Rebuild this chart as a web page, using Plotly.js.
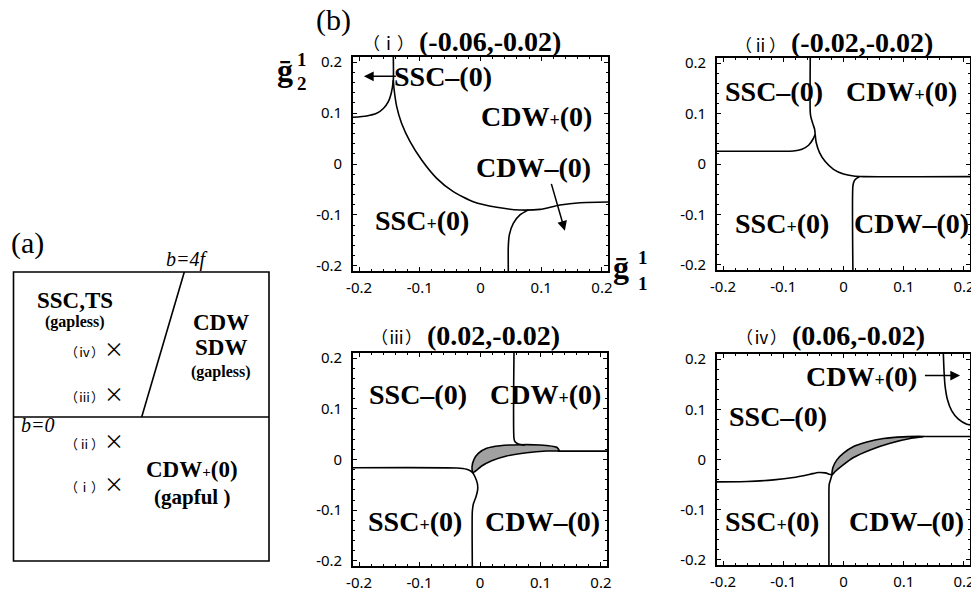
<!DOCTYPE html>
<html>
<head>
<meta charset="utf-8">
<script src="https://cdn.plot.ly/plotly-3.0.1.min.js"></script>
<style>html,body{margin:0;padding:0;background:#fff}</style>
</head>
<body>
<div id="chart" style="width:971px;height:592px"></div>
<script>
// ---------- phase boundaries in the (g1, g2) plane ----------
// (i)  (-0.06,-0.02)
const i_sscMinus_x = [-0.21, -0.1875, -0.171, -0.160, -0.152, -0.147, -0.1436, -0.1436];
const i_sscMinus_y = [0.0917, 0.0942, 0.0995, 0.109, 0.122, 0.139, 0.165, 0.21];
const i_main_x = [-0.1436, -0.1425, -0.138, -0.130, -0.116, -0.0969, -0.0721, -0.0448, -0.0119, 0.0267, 0.065, 0.098, 0.131, 0.164, 0.21];
const i_main_y = [0.165, 0.1486, 0.1125, 0.080, 0.0438, 0.0079, -0.0281, -0.0543, -0.074, -0.085, -0.0903, -0.089, -0.0805, -0.076, -0.0746];
const i_cdwMinus_x = [0.0458, 0.0458, 0.0475, 0.054, 0.065, 0.0788];
const i_cdwMinus_y = [-0.21, -0.162, -0.139, -0.1165, -0.100, -0.090];

// (ii) (-0.02,-0.02)
const ii_top_x = [-0.0552, -0.0552, -0.054, -0.0507, -0.048, -0.047];
const ii_top_y = [0.21, 0.1023, 0.0923, 0.079, 0.069, 0.059];
const ii_left_x = [-0.047, -0.0507, -0.058, -0.069, -0.083, -0.105, -0.21];
const ii_left_y = [0.059, 0.049, 0.0372, 0.0293, 0.0259, 0.0253, 0.0253];
const ii_right_x = [-0.047, -0.0453, -0.0398, -0.0303, -0.0166, 0.0, 0.0166, 0.0332, 0.21];
const ii_right_y = [0.059, 0.0426, 0.0227, 0.0048, -0.0105, -0.0199, -0.0239, -0.0251, -0.0251];
const ii_bottom_x = [0.0156, 0.0156, 0.0177, 0.0222, 0.0265];
const ii_bottom_y = [-0.21, -0.0438, -0.0338, -0.0279, -0.0251];

// (iii) (0.02,-0.02)
const iii_top_x = [0.0562, 0.0562, 0.0579, 0.0634, 0.0744];
const iii_top_y = [0.21, 0.0418, 0.0351, 0.0306, 0.028];
const iii_lens_x = [-0.012, -0.0132, -0.0099, -0.0028, 0.011, 0.033, 0.066, 0.0992, 0.1268, 0.131,
                    0.110, 0.0772, 0.0441, 0.0193, 0.0028, -0.0066, -0.012];
const iii_lens_y = [-0.026, -0.0142, 0.0004, 0.0122, 0.0221, 0.0272, 0.0292, 0.0286, 0.0241, 0.0174,
                    0.0168, 0.0134, 0.0069, -0.0024, -0.0128, -0.022, -0.026];
const iii_right_x = [0.128, 0.21];
const iii_right_y = [0.0165, 0.0165];
const iii_left_x = [-0.21, -0.0385, -0.022, -0.0154, -0.012];
const iii_left_y = [-0.0162, -0.0168, -0.0193, -0.0227, -0.026];
const iii_bottom_x = [-0.012, -0.0083, -0.0044, -0.0039, -0.0066, -0.011, -0.0127, -0.0127];
const iii_bottom_y = [-0.026, -0.034, -0.047, -0.060, -0.0734, -0.0878, -0.103, -0.21];

// (iv) (0.06,-0.02)
const iv_arc_x = [0.1658, 0.167, 0.1686, 0.1724, 0.1797, 0.1907, 0.2046, 0.21];
const iv_arc_y = [0.21, 0.1732, 0.1465, 0.120, 0.0967, 0.0802, 0.0703, 0.069];
const iv_lens_x = [-0.0192, -0.0176, -0.011, 0.0, 0.0166, 0.0388, 0.0663, 0.0995, 0.1355,
                   0.1106, 0.0774, 0.0443, 0.0166, -0.0027, -0.0138, -0.0192];
const iv_lens_y = [-0.0307, -0.0159, -0.0008, 0.0125, 0.0259, 0.035, 0.0418, 0.045, 0.0458,
                   0.0418, 0.0324, 0.0191, 0.004, -0.0127, -0.0239, -0.0307];
const iv_right_x = [0.1355, 0.21];
const iv_right_y = [0.0458, 0.0458];
const iv_left_x = [-0.21, -0.160, -0.116, -0.083, -0.0552, -0.0415, -0.0303, -0.0232, -0.0192];
const iv_left_y = [-0.0446, -0.0438, -0.0406, -0.0358, -0.0293, -0.0259, -0.0267, -0.0293, -0.0307];
const iv_bottom_x = [-0.0192, -0.0209, -0.0237, -0.0242, -0.0242];
const iv_bottom_y = [-0.0307, -0.0378, -0.0492, -0.0625, -0.21];

// axis ticks
const tickVals = [-0.2, -0.1, 0, 0.1, 0.2];
const tickText = ['-0.2', '-0.1', '0', '0.1', '0.2'];

// panel titles: numeral and (g1', g2') parameters
const panelNumerals = ['（ⅰ）', '（ⅱ）', '（ⅲ）', '（ⅳ）'];
const panelParams = ['(-0.06,-0.02)', '(-0.02,-0.02)', '(0.02,-0.02)', '(0.06,-0.02)'];

// ---------- helpers ----------
const W = 971, H = 592;
const PX = v => v / W, PY = v => 1 - v / H;
const SERIF = 'Liberation Serif, Times New Roman, serif';
const CJK = 'Noto Sans CJK JP, Noto Sans, sans-serif';

function line(x, y, n) {
  const s = n === 1 ? '' : String(n);
  return {x, y, xaxis: 'x' + s, yaxis: 'y' + s,
          mode: 'lines', line: {color: '#000', width: 1.6, shape: 'spline', smoothing: 0.6},
          hoverinfo: 'skip', showlegend: false};
}
function lens(x, y, n) {
  return {x, y, xaxis: 'x' + n, yaxis: 'y' + n, mode: 'lines', fill: 'toself',
          fillcolor: '#ababab',
          fillpattern: {shape: '.', fgcolor: '#707070', bgcolor: '#c8c8c8', size: 2, solidity: 0.5},
          line: {color: '#000', width: 1.6, shape: 'spline', smoothing: 0.6},
          hoverinfo: 'skip', showlegend: false};
}

const traces = [
  line(i_sscMinus_x, i_sscMinus_y, 1),
  line(i_main_x, i_main_y, 1),
  line(i_cdwMinus_x, i_cdwMinus_y, 1),
  line(ii_top_x, ii_top_y, 2),
  line(ii_left_x, ii_left_y, 2),
  line(ii_right_x, ii_right_y, 2),
  line(ii_bottom_x, ii_bottom_y, 2),
  lens(iii_lens_x, iii_lens_y, 3),
  line(iii_top_x, iii_top_y, 3),
  line(iii_right_x, iii_right_y, 3),
  line(iii_left_x, iii_left_y, 3),
  line(iii_bottom_x, iii_bottom_y, 3),
  lens(iv_lens_x, iv_lens_y, 4),
  line(iv_arc_x, iv_arc_y, 4),
  line(iv_right_x, iv_right_y, 4),
  line(iv_left_x, iv_left_y, 4),
  line(iv_bottom_x, iv_bottom_y, 4)
];

function axis(domain, anchor, isY) {
  return {
    domain, anchor, range: [-0.21, 0.21],
    tickmode: 'array', tickvals: tickVals, ticktext: tickText,
    ticks: 'inside', ticklen: 4, tickwidth: 1, tickcolor: '#000',
    minor: {tickmode: 'linear', tick0: 0, dtick: 0.02, ticks: 'inside', ticklen: 2, tickcolor: '#000'},
    showline: true, linewidth: 1.8, linecolor: '#000', mirror: 'ticks',
    showgrid: false, zeroline: false, fixedrange: true,
    ticklabelstandoff: isY ? 6 : 2, ticklabeloverflow: 'allow',
    tickfont: {family: 'Noto Sans, sans-serif', size: 15, color: '#000'}
  };
}

// plot frames (pixel edges)
const frames = [
  {x0: 353, x1: 608, y0: 57, y1: 271},
  {x0: 717, x1: 970, y0: 58, y1: 270},
  {x0: 353, x1: 607, y0: 353, y1: 566},
  {x0: 717, x1: 970, y0: 354, y1: 565}
];
const layout = {
  width: W, height: H, margin: {l: 0, r: 0, t: 0, b: 0},
  paper_bgcolor: '#fff', plot_bgcolor: 'rgba(0,0,0,0)', showlegend: false,
  annotations: [], shapes: []
};
frames.forEach((f, k) => {
  const s = k === 0 ? '' : String(k + 1);
  layout['xaxis' + s] = axis([PX(f.x0), PX(f.x1)], 'y' + s, false);
  layout['yaxis' + s] = axis([PY(f.y1), PY(f.y0)], 'x' + s, true);
});

const A = layout.annotations;
function phase(text, x, y, n) {
  const s = n === 1 ? '' : String(n);
  A.push({x, y, xref: 'x' + s, yref: 'y' + s, text: '<b>' + text + '</b>', showarrow: false,
          xanchor: 'center', yanchor: 'middle',
          font: {family: SERIF, size: 28, color: '#000'}});
}
function arrow(x, y, ax, ay, n) {
  const s = n === 1 ? '' : String(n);
  A.push({x, y, ax, ay, xref: 'x' + s, yref: 'y' + s, axref: 'x' + s, ayref: 'y' + s,
          text: '', showarrow: true, arrowhead: 2, arrowsize: 1.3, arrowwidth: 1.5,
          arrowcolor: '#000', standoff: 0, startstandoff: 0});
}
function paperText(text, x, y, size, opts) {
  A.push(Object.assign({x: PX(x), y: PY(y), xref: 'paper', yref: 'paper', text, showarrow: false,
          xanchor: 'center', yanchor: 'middle',
          font: {family: SERIF, size, color: '#000'}}, opts || {}));
}

const small = '<span style="font-size:18px">+</span>';
const CDWp = 'CDW' + small + '(0)', CDWm = 'CDW–(0)';
const SSCp = 'SSC' + small + '(0)', SSCm = 'SSC–(0)';

// (i)
phase(SSCm, -0.061, 0.172, 1);
arrow(-0.192, 0.172, -0.137, 0.172, 1);
phase(CDWp, 0.0915, 0.094, 1);
phase(CDWm, 0.088, -0.006, 1);
arrow(0.139, -0.131, 0.116, -0.036, 1);
phase(SSCp, -0.0966, -0.1115, 1);
// (ii)
phase(SSCm, -0.115, 0.143, 2);
phase(CDWp, 0.097, 0.143, 2);
phase(SSCp, -0.1016, -0.1186, 2);
phase(CDWm, 0.113, -0.1186, 2);
// (iii)
phase(SSCm, -0.103, 0.128, 3);
phase(CDWp, 0.109, 0.128, 3);
phase(SSCp, -0.1075, -0.1216, 3);
phase(CDWm, 0.103, -0.1216, 3);
// (iv)
phase(CDWp, 0.0305, 0.165, 4);
arrow(0.1935, 0.167, 0.1327, 0.167, 4);
phase(SSCm, -0.108, 0.0854, 4);
phase(SSCp, -0.119, -0.1225, 4);
phase(CDWm, 0.104, -0.1225, 4);

// panel titles
const titlePos = [{x: 416, y: 41}, {x: 788, y: 43}, {x: 424, y: 335}, {x: 789, y: 335}];
titlePos.forEach((p, k) => {
  paperText(panelNumerals[k], p.x, p.y + 1, 17, {xanchor: 'right', font: {family: CJK, size: 17, color: '#000'}});
  paperText('<b>' + panelParams[k] + '</b>', p.x + 1, p.y, 28, {xanchor: 'left'});
});

// axis symbols
paperText('(b)', 333, 20, 30);
paperText('<b>ḡ</b>', 285, 70, 32);
paperText('<b>1</b>', 302, 60, 19);
paperText('<b>2</b>', 302, 83, 19);
paperText('<b>ḡ</b>', 621, 267, 32);
paperText('<b>1</b>', 643, 258, 19);
paperText('<b>1</b>', 643, 283, 19);

// ---------- (a) schematic phase diagram ----------
const S = layout.shapes;
const box = {x0: 13.5, x1: 269, y0: 272, y1: 561};
S.push({type: 'rect', xref: 'paper', yref: 'paper', x0: PX(box.x0), x1: PX(box.x1), y0: PY(box.y1), y1: PY(box.y0),
        line: {color: '#000', width: 1.6}});
S.push({type: 'line', xref: 'paper', yref: 'paper', x0: PX(box.x0), x1: PX(box.x1), y0: PY(417), y1: PY(417),
        line: {color: '#000', width: 1.6}});
S.push({type: 'line', xref: 'paper', yref: 'paper', x0: PX(184.3), y0: PY(272), x1: PX(141.7), y1: PY(417),
        line: {color: '#000', width: 1.6}});

paperText('(a)', 27, 243, 30);
paperText('<i>b=4f</i>', 186, 259, 20);
paperText('<i>b=0</i>', 38, 425, 20);
paperText('<b>SSC,TS</b>', 75, 300, 23);
paperText('<b>(gapless)</b>', 75, 322, 16);
paperText('<b>CDW</b>', 221, 322, 23);
paperText('<b>SDW</b>', 221, 347, 23);
paperText('<b>(gapless)</b>', 221, 372, 16);
paperText('<b>CDW<span style="font-size:15px">+</span>(0)</b>', 192, 469, 23);
paperText('<b>(gapful )</b>', 192, 497, 21);
const markY = [483, 440, 393, 348];
markY.forEach((y, k) => {
  paperText(panelNumerals[k] + '<span style="font-size:20px">×</span>', 126, y, 13,
            {xanchor: 'right', font: {family: CJK, size: 13, color: '#000'}});
});

Plotly.newPlot('chart', traces, layout, {staticPlot: true, displayModeBar: false});
</script>
</body>
</html>
